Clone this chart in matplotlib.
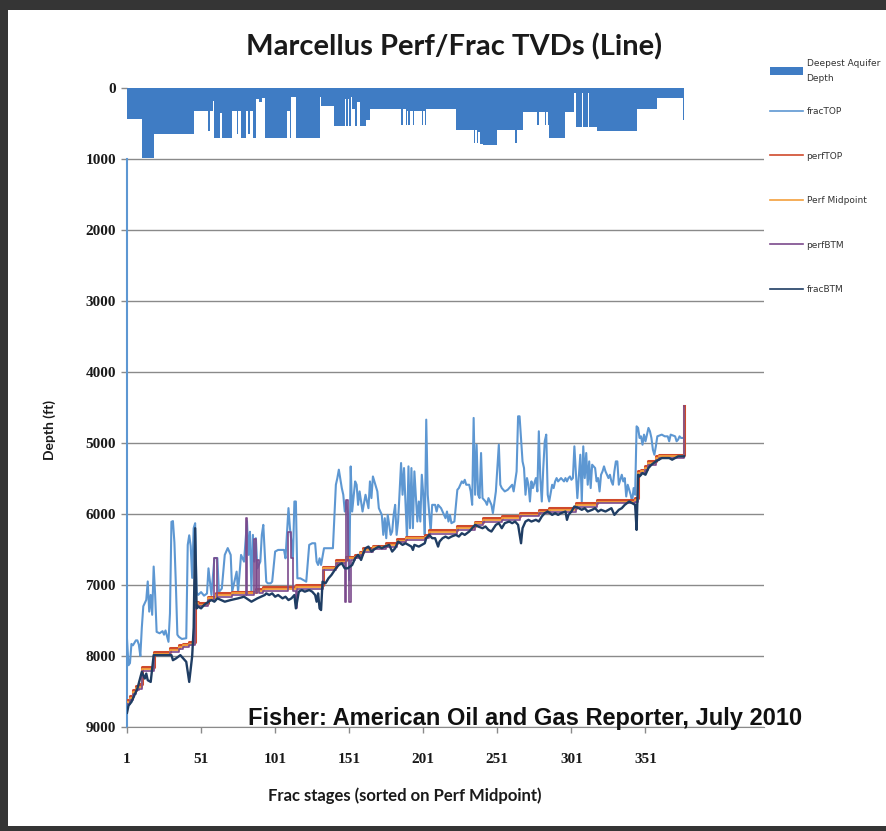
import matplotlib
matplotlib.use("Agg")
import matplotlib.pyplot as plt
from matplotlib.patches import Patch, Rectangle
from matplotlib.lines import Line2D

# ---------------- data ----------------
x_tick_stages = [1, 51, 101, 151, 201, 251, 301, 351]
y_tick_depths = [0, 1000, 2000, 3000, 4000, 5000, 6000, 7000, 8000, 9000]

# Deepest aquifer depth: step starts (stage) and depth (ft)
aquifer_stage = [1, 11, 19, 46, 56, 57, 59, 60, 64, 65, 72, 75, 76, 78, 81, 83, 84, 86,
                 88, 90, 92, 94, 109, 111, 112, 115, 131, 132, 141, 148, 149, 150, 151,
                 152, 153, 155, 156, 158, 162, 165, 186, 187, 189, 190, 191, 192, 194,
                 195, 200, 201, 202, 203, 223, 235, 236, 237, 238, 239, 241, 251, 263,
                 264, 268, 278, 279, 283, 284, 285, 286, 297, 303, 304, 308, 309, 312,
                 313, 318, 345, 359, 376, 377]
aquifer_depth = [440, 990, 650, 320, 600, 320, 190, 700, 350, 700, 320, 650, 320, 700,
                 320, 650, 320, 700, 150, 200, 140, 700, 320, 700, 120, 700, 130, 260,
                 540, 150, 540, 150, 540, 130, 300, 540, 200, 540, 450, 300, 520, 300,
                 520, 320, 520, 320, 520, 320, 520, 320, 520, 290, 590, 780, 590, 780,
                 620, 790, 800, 590, 780, 590, 333, 520, 333, 520, 333, 520, 710, 333,
                 75, 545, 75, 545, 75, 545, 600, 290, 145, 450, 450]

# fracTOP (stage, depth ft)
frac_top = [(1,7760),(2,8130),(3,8100),(4,7830),(5,7850),(7,7780),(8,7780),(9,7840),(10,8000),
 (11,7600),(12,7300),(14,7210),(15,6950),(16,7375),(17,7140),(18,7420),(19,6740),(20,7140),
 (21,7660),(23,7680),(25,7650),(26,7700),(27,7640),(29,7800),(30,7400),(31,6110),(32,6100),
 (33,6400),(34,7000),(35,7700),(36,7730),(38,7760),(41,7750),(42,6435),(43,6300),(44,6450),
 (45,6900),(46,6200),(47,6130),(48,7100),(49,7140),(51,7100),(53,7150),(55,7120),(56,6765),
 (58,7140),(60,6620),(62,6620),(63,7100),(65,7050),(67,6576),(69,6480),(71,6576),(72,7094),
 (75,6812),(76,7094),(78,6576),(80,6671),(82,6100),(83,6576),(84,6250),(85,7094),(86,6294),
 (87,6671),(88,6341),(89,6765),(91,6671),(92,6294),(93,6153),(95,6953),(96,6976),(98,6976),
 (99,6953),(101,6529),(103,6506),(107,6506),(108,6624),(110,5917),(111,6200),(112,6388),
 (113,6624),(114,5824),(115,5824),(116,6906),(118,6906),(122,6953),(124,6435),(126,6412),
 (128,6412),(129,6671),(130,6718),(131,6624),(132,6718),(134,6482),(140,6482),(142,5588),
 (143,5494),(144,5376),(146,5635),(147,5729),(148,5965),(149,5824),(150,5990),(151,6930),
 (152,5330),(153,5965),(155,5541),(156,5588),(157,5871),(158,5682),(160,5965),(162,5729),
 (164,5918),(165,5541),(166,5776),(167,5471),(168,5541),(170,5682),(171,5918),(173,6012),
 (174,6294),(175,6059),(176,6341),(177,6012),(179,6294),(180,6247),(181,6012),(182,5871),
 (183,6294),(184,6106),(186,5282),(187,5729),(188,5353),(190,6341),(191,5329),(192,6200),
 (193,5353),(194,6200),(195,5400),(197,6106),(198,5824),(199,6106),(200,5447),(201,5729),
 (202,6294),(203,4671),(204,5729),(206,6247),(207,5871),(209,5871),(210,5965),(211,5871),
 (213,5918),(215,6012),(216,6059),(217,5965),(218,6106),(219,6012),(220,6129),(222,6106),
 (224,5659),(225,5635),(226,5588),(227,5541),(228,5565),(229,5518),(230,5588),(232,5588),
 (233,5682),(234,5871),(235,4647),(236,5729),(237,5024),(238,5729),(239,5776),(240,5141),
 (241,5776),(243,5824),(244,5871),(245,5776),(246,5824),(247,5871),(248,5988),(250,5682),
 (252,5024),(253,5588),(254,5635),(256,5682),(258,5659),(261,5588),(262,5682),(264,5400),
 (265,4624),(266,4624),(268,5259),(269,5353),(270,5729),(271,5494),(272,5588),(273,5824),
 (274,5541),(275,5635),(277,5494),(278,5682),(279,4835),(280,5494),(281,5824),(282,5353),
 (283,4976),(284,4882),(285,5729),(286,5824),(288,5588),(289,5635),(290,5541),(291,5494),
 (292,5541),(293,5518),(294,5494),(296,5541),(297,5494),(298,5541),(299,5494),(300,5471),
 (301,5518),(302,5494),(303,5047),(304,5400),(305,5776),(307,5165),(308,5824),(309,5047),
 (310,5494),(311,5141),(312,5588),(313,5259),(314,5635),(315,5306),(317,5353),(318,5541),
 (319,5494),(320,5682),(321,5447),(322,5400),(323,5329),(324,5400),(326,5494),(327,5447),
 (328,5541),(329,5588),(330,5400),(331,5259),(332,5259),(333,5588),(335,5447),(336,5541),
 (337,5494),(338,5753),(339,5588),(340,5659),(341,5729),(342,5824),(343,5635),(344,5729),
 (345,4765),(346,4788),(347,4929),(348,4906),(349,5024),(350,4882),(351,4976),(353,4788),
 (354,4835),(355,4929),(356,5094),(357,5165),(358,5047),(359,4906),(362,4882),(364,4906),
 (366,4906),(367,4976),(368,4882),(371,4906),(372,4976),(373,4953),(374,4906),(375,4929),
 (377,4929)]

# perfTOP / Perf Midpoint / perfBTM as step starts (stage, depth ft)
perf_top = [(1,8620),(3,8560),(5,8480),(7,8420),(9,8400),(11,8153),(19,7941),(30,7894),
 (36,7847),(39,7824),(43,7800),(47,7235),(49,7259),(56,7165),(61,7118),(72,7094),(88,7060),
 (93,7030),(115,7000),(133,6741),(142,6647),(149,6600),(155,6576),(158,6530),(160,6482),
 (167,6447),(176,6412),(183,6350),(189,6320),(202,6294),(205,6224),(224,6176),(236,6106),
 (241,6059),(254,6035),(266,5988),(279,5941),(286,5918),(304,5847),(318,5800),(344,5776),
 (346,5400),(348,5376),(351,5329),(353,5259),(358,5188),(360,5165),(377,4482)]

perf_mid = [(1,8650),(3,8590),(5,8510),(7,8450),(9,8430),(11,8180),(19,7965),(30,7915),
 (36,7870),(39,7850),(43,7825),(47,7260),(49,7280),(56,7190),(61,7140),(72,7115),(88,7085),
 (93,7055),(115,7025),(133,6765),(142,6670),(149,6625),(155,6600),(158,6555),(160,6505),
 (167,6470),(176,6435),(183,6375),(189,6345),(202,6318),(205,6250),(224,6200),(236,6130),
 (241,6085),(254,6060),(266,6012),(279,5965),(286,5942),(304,5870),(318,5825),(344,5800),
 (346,5425),(348,5400),(351,5352),(353,5283),(358,5212),(360,5188),(377,4500)]

perf_btm = [(1,8680),(3,8620),(5,8540),(7,8480),(9,8460),(11,8210),(19,7990),(30,7940),
 (36,7895),(39,7875),(43,7850),(47,7285),(49,7300),(56,7215),(60,6620),(62,7165),(72,7140),
 (81,6060),(82,7140),(87,6350),(88,7110),(89,6650),(90,7110),(93,7080),(110,6250),(112,6620),
 (113,7080),(115,7330),(116,7050),(133,6790),(142,6695),(148,7235),(149,5800),(150,6650),
 (151,7235),(152,6650),(155,6625),(158,6580),(160,6530),(167,6495),(176,6460),(183,6400),
 (189,6370),(202,6345),(205,6275),(224,6225),(236,6155),(241,6110),(254,6085),(266,6035),
 (279,5990),(286,5965),(304,5895),(318,5850),(344,5825),(346,5450),(348,5425),(351,5375),
 (353,5305),(358,5235),(360,5210),(377,4480)]

# fracBTM (stage, depth ft)
frac_btm = [(1,8800),(2,8700),(4,8647),(6,8553),(8,8459),(11,8224),(13,8318),(14,8247),
 (15,8341),(17,8365),(19,7988),(31,7988),(32,8059),(34,8035),(37,7988),(39,8035),(41,8082),
 (42,8224),(43,8365),(44,8176),(45,8000),(46,7600),(47,6200),(48,7330),(49,7306),(51,7329),
 (53,7282),(56,7235),(58,7212),(60,7235),(62,7188),(67,7235),(71,7212),(76,7188),(80,7165),
 (85,7235),(89,7188),(94,7141),(95,7118),(97,7141),(99,7118),(101,7165),(103,7141),(106,7188),
 (108,7165),(110,7212),(112,7188),(114,7141),(115,7329),(117,7094),(119,7071),(121,7094),
 (124,7071),(126,7094),(128,7141),(129,7235),(130,7118),(131,7329),(132,7353),(133,6953),
 (135,6976),(137,6906),(139,6859),(142,6765),(144,6718),(146,6694),(148,6765),(150,6765),
 (153,6718),(155,6624),(157,6576),(159,6647),(161,6529),(162,6482),(164,6459),(166,6529),
 (169,6482),(171,6459),(173,6482),(175,6459),(178,6435),(180,6529),(182,6482),(184,6388),
 (187,6435),(189,6412),(191,6435),(193,6459),(194,6506),(195,6435),(198,6459),(200,6435),
 (202,6412),(203,6341),(205,6294),(207,6341),(209,6341),(211,6459),(212,6388),(214,6341),
 (216,6318),(218,6341),(220,6318),(223,6294),(225,6318),(227,6271),(229,6294),(232,6247),
 (234,6200),(236,6153),(238,6176),(241,6200),(243,6176),(245,6224),(247,6247),(250,6153),
 (252,6129),(254,6200),(256,6129),(259,6106),(261,6129),(263,6106),(265,6153),(267,6412),
 (268,6200),(270,6106),(272,6082),(274,6106),(277,6082),(279,6106),(281,6035),(283,5988),
 (285,5965),(288,6012),(290,5988),(292,6012),(294,5988),(297,5965),(298,6082),(299,6012),
 (301,5965),(303,5894),(306,5918),(308,5941),(310,5918),(312,5965),(315,5941),(317,5918),
 (319,5965),(321,5941),(324,5965),(326,5941),(328,5918),(330,6012),(333,5941),(335,5918),
 (337,5871),(340,5824),(342,5847),(344,5871),(345,6224),(346,5447),(347,5471),(349,5424),
 (351,5447),(353,5353),(355,5306),(358,5259),(360,5235),(362,5212),(367,5212),(369,5235),
 (371,5212),(373,5188),(377,5188)]

area_label = "Deepest Aquifer\nDepth"
line_labels = ["fracTOP", "perfTOP", "Perf Midpoint", "perfBTM", "fracBTM"]

# ---------------- styling ----------------
C_AREA = "#3f7cc4"
C_FTOP = "#5d97d2"
C_PTOP = "#cf4a2c"
C_PMID = "#f3a03c"
C_PBTM = "#7b4a8c"
C_FBTM = "#1f3d63"
GRID = "#8a8a8a"
TXT = "#1a1a1a"

W, H = 887, 831
fig = plt.figure(figsize=(W / 100, H / 100), dpi=100)
fig.patch.set_facecolor("#353535")
fig.add_artist(Rectangle((8 / W, 5 / H), (W - 8) / W, (H - 5 - 10) / H,
                         transform=fig.transFigure, facecolor="white",
                         edgecolor="none", zorder=0))

ax = fig.add_axes([127 / W, 1 - 727 / H, 637 / W, 639 / H])
ax.set_facecolor("none")


def unzip(pairs):
    return [p[0] for p in pairs], [p[1] for p in pairs]


ax.fill_between(aquifer_stage, aquifer_depth, 0, step="post", color=C_AREA,
                lw=0, zorder=2)

x, y = unzip(frac_top)
ax.plot(x, y, color=C_FTOP, lw=1.5, zorder=3)
x, y = unzip(perf_top)
ax.step(x, y, where="post", color=C_PTOP, lw=2.2, zorder=4)
x, y = unzip(perf_mid)
ax.step(x, y, where="post", color=C_PMID, lw=1.3, zorder=5)
x, y = unzip(perf_btm)
ax.step(x, y, where="post", color=C_PBTM, lw=1.2, zorder=6)
x, y = unzip(frac_btm)
ax.plot(x, y, color=C_FBTM, lw=1.7, zorder=7)

ax.set_xlim(1, 431)
ax.set_ylim(9000, 0)
ax.set_xticks(x_tick_stages)
ax.set_yticks(y_tick_depths)
ax.set_xticklabels([str(s) for s in x_tick_stages])
ax.set_yticklabels([str(d) for d in y_tick_depths])

for lab in ax.get_xticklabels() + ax.get_yticklabels():
    lab.set_fontfamily(["Liberation Serif", "DejaVu Serif"])
    lab.set_fontweight("bold")
    lab.set_fontsize(11)
    lab.set_color(TXT)
ax.tick_params(axis="both", direction="out", length=4, width=1, color=GRID)
ax.tick_params(axis="y", pad=4)
ax.tick_params(axis="x", pad=15)

ax.yaxis.grid(True, color=GRID, lw=1.0, zorder=1)
ax.set_axisbelow(True)
ax.yaxis.get_gridlines()[0].set_visible(False)

for s in ("top", "right"):
    ax.spines[s].set_visible(False)
ax.spines["bottom"].set_color(GRID)
ax.spines["left"].set_color(C_FTOP)
ax.spines["left"].set_linewidth(1.5)
ax.spines["left"].set_bounds(1000, 9000)

fig.text(454 / W, 1 - 47 / H, "Marcellus Perf/Frac TVDs (Line)", ha="center", va="center",
         fontsize=21, fontweight="bold", family=["Lato", "DejaVu Sans"], color=TXT)
fig.text(50 / W, 1 - 430 / H, "Depth (ft)", ha="center", va="center", rotation=90,
         fontsize=10, fontweight="bold", family=["Lato", "DejaVu Sans"], color=TXT)
fig.text(405 / W, 1 - 796 / H, "Frac stages (sorted on Perf Midpoint)", ha="center",
         va="center", fontsize=12, fontweight="bold", family=["Lato", "DejaVu Sans"],
         color=TXT)
fig.text(248 / W, 1 - 718 / H, "Fisher: American Oil and Gas Reporter, July 2010",
         ha="left", va="center", fontsize=17, fontweight="bold",
         family=["Liberation Sans", "DejaVu Sans"], color="#111111")

leg_common = dict(loc="upper left", frameon=False, prop=dict(family=["DejaVu Sans"], size=6.5),
                  handlelength=3.7, handleheight=1.0, handletextpad=0.35,
                  borderaxespad=0, borderpad=0)

leg1 = fig.legend([Patch(facecolor=C_AREA, edgecolor="none")], [area_label],
                  bbox_to_anchor=(770 / W, 1 - 59 / H), **leg_common)
for t in leg1.get_texts():
    t.set_linespacing(1.85)
    t.set_color("#333333")

line_handles = [Line2D([], [], color=c, lw=1.2)
                for c in (C_FTOP, C_PTOP, C_PMID, C_PBTM, C_FBTM)]
leg2 = fig.legend(line_handles, line_labels, labelspacing=3.92,
                  bbox_to_anchor=(770 / W, 1 - 107 / H), **leg_common)
for t in leg2.get_texts():
    t.set_color("#333333")

fig.savefig("out.png", dpi=100, facecolor=fig.get_facecolor())
